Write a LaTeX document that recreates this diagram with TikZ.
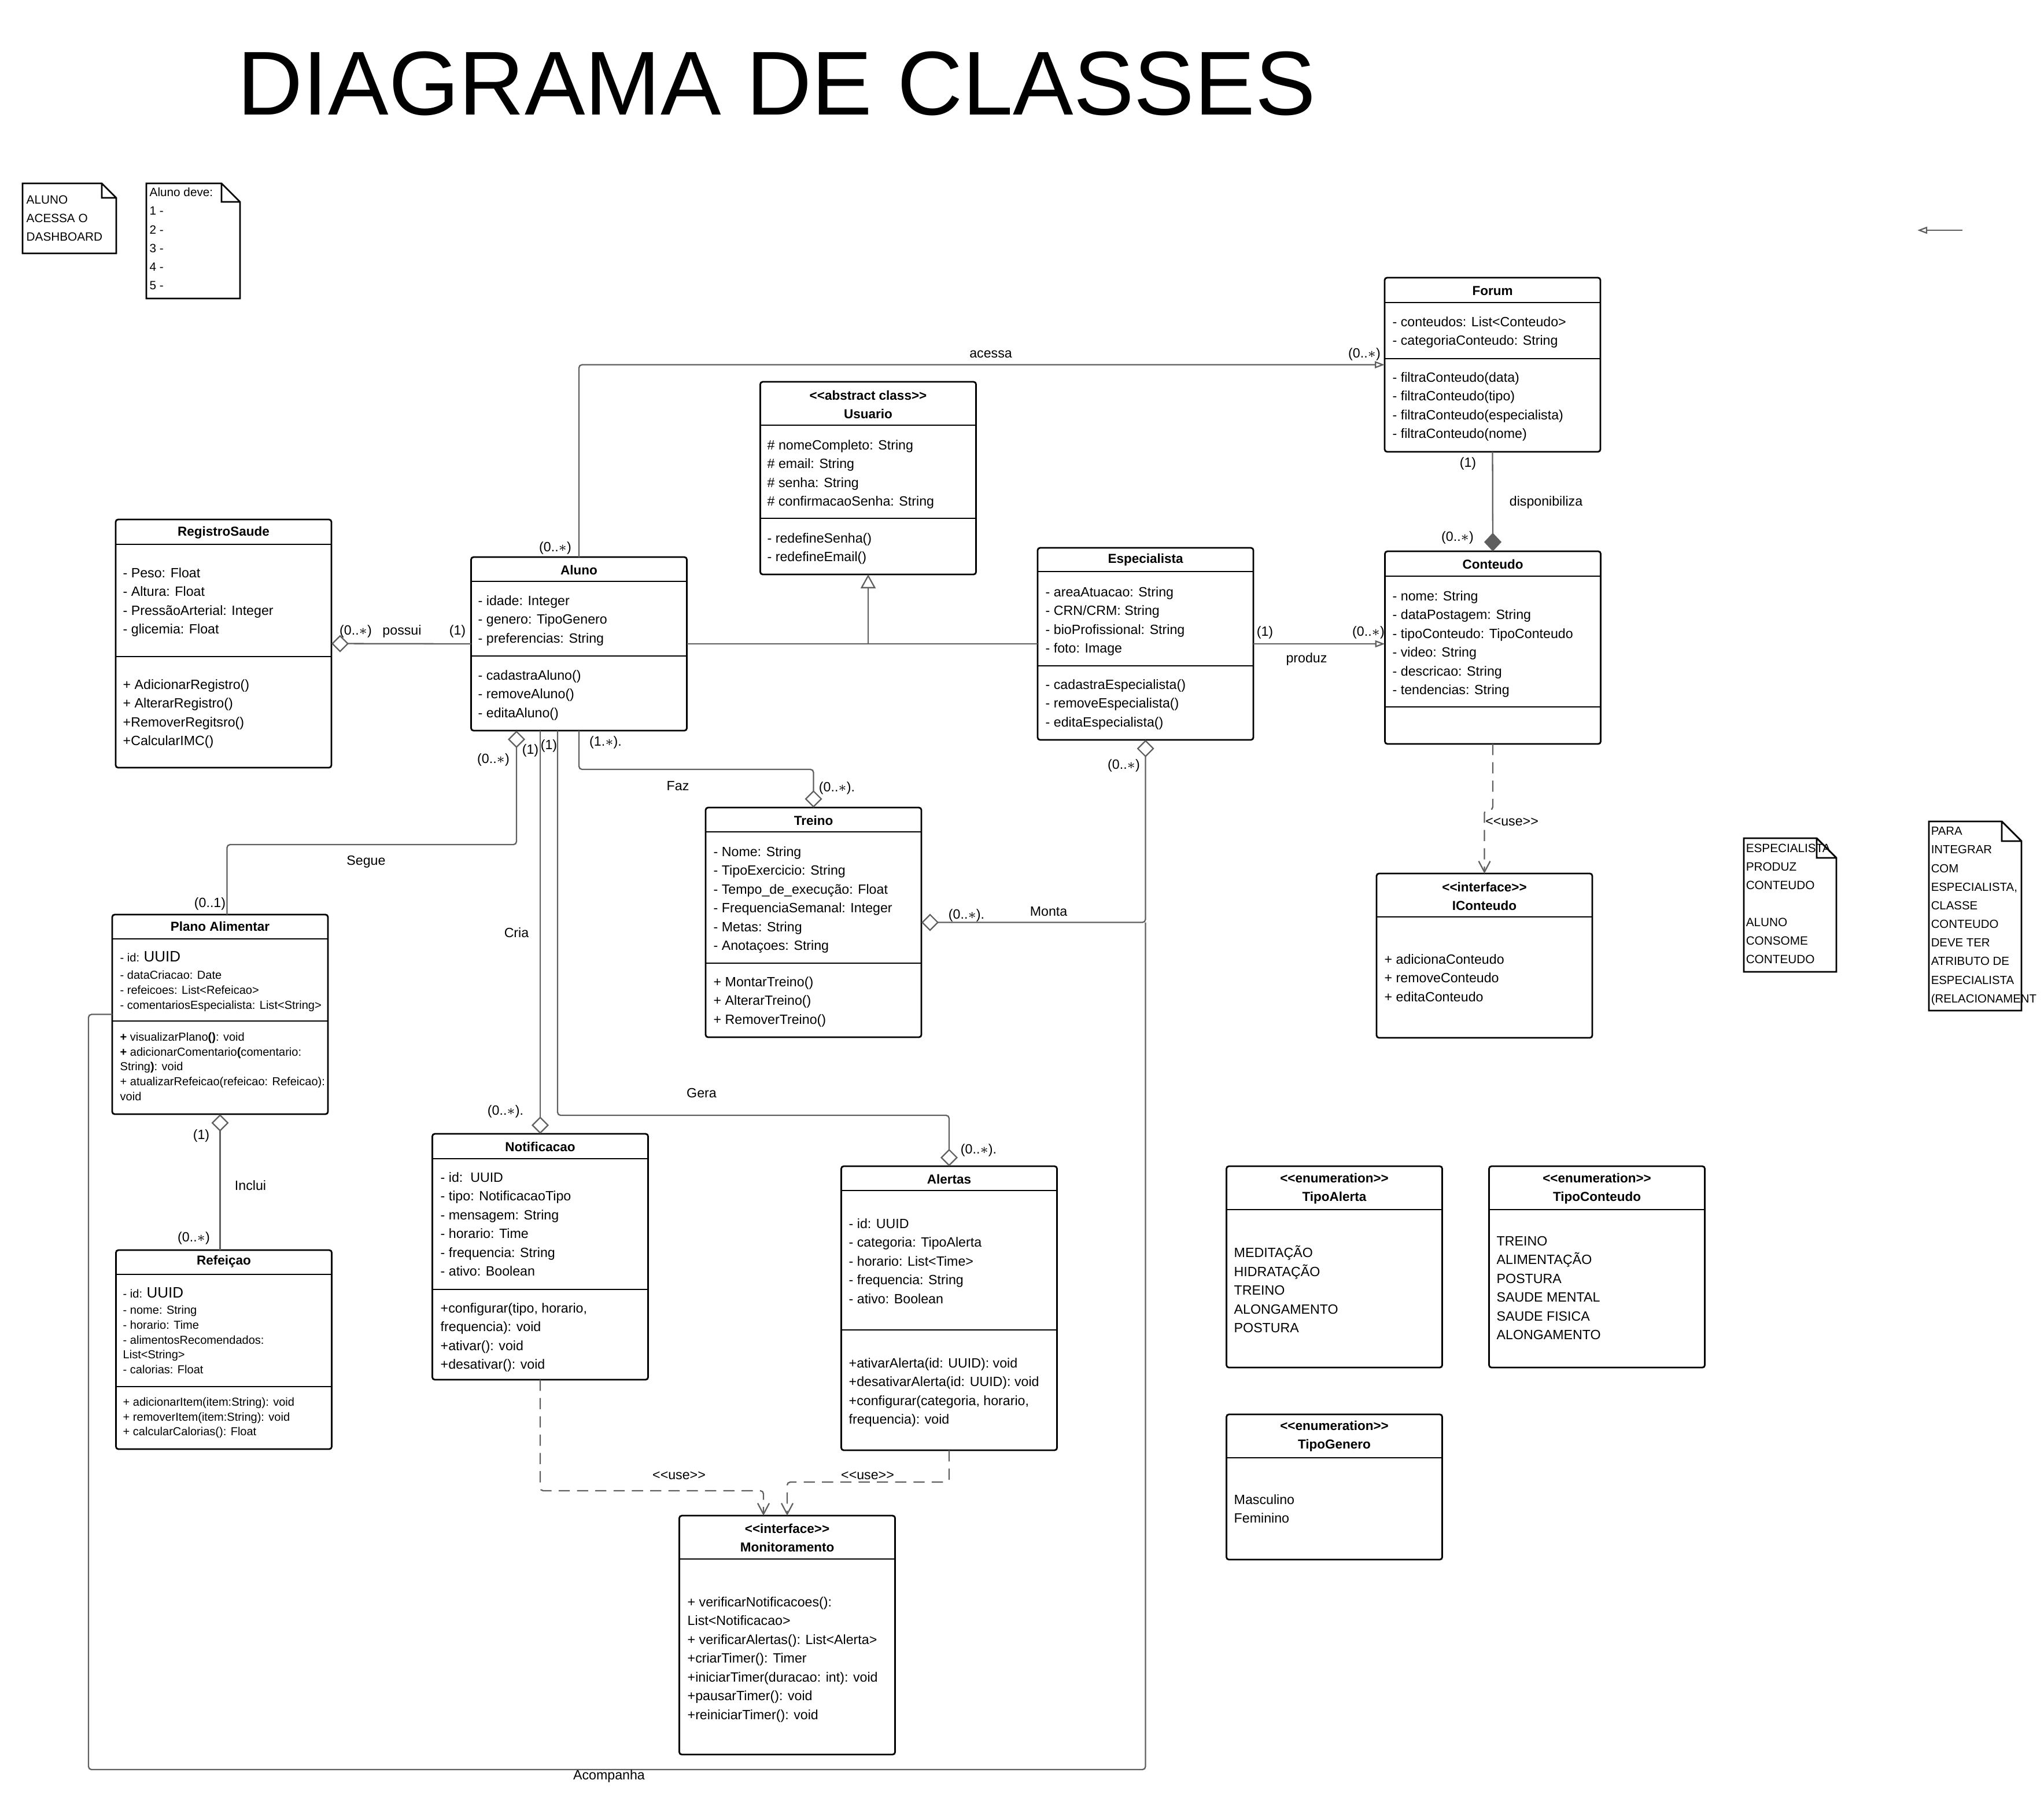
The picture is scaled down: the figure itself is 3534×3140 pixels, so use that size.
\documentclass[tikz,border=0pt]{standalone}
\usepackage{fontspec}
\setmainfont{Liberation Sans}
\usetikzlibrary{arrows.meta}
\definecolor{linegray}{HTML}{5F5F5F}
\newcommand{\stL}{<\kern0pt<}
\newcommand{\stR}{>\kern0pt>}

\begin{document}
\begin{tikzpicture}[x=0.1mm, y=-0.1mm,
    cls/.style={draw, line width=0.8pt, rounded corners=1.2pt, minimum width=37.3mm, inner sep=0pt, outer sep=0pt},
    divline/.style={line width=0.8pt},
    ttl/.style={font=\fontsize{6.4}{9.1}\selectfont\bfseries, align=center, inner sep=0pt},
    txt/.style={anchor=north west, inner sep=0pt, align=left, yshift=-0.45mm, font=\fontsize{6.6}{9.25}\selectfont, execute at begin node=\strut},
    txtsm/.style={anchor=north west, inner sep=0pt, align=left, yshift=-0.2mm, font=\fontsize{5.7}{7.35}\selectfont, execute at begin node=\strut},
    memo/.style={anchor=north west, inner sep=0pt, align=left, yshift=-0.4mm, font=\fontsize{5.9}{9.15}\selectfont, execute at begin node=\strut},
    lbl/.style={font=\fontsize{6.6}{8}\selectfont, inner sep=0pt},
    assoc/.style={draw=linegray, line width=0.65pt, rounded corners=1.5pt},
    dep/.style={assoc, dash pattern=on 5.5pt off 3.5pt},
    aggr/.tip={Diamond[open, length=3mm, width=3mm]},
    compo/.tip={Diamond[length=3.2mm, width=3mm]},
    navi/.tip={Triangle[open, length=1.7mm, width=1.2mm]},
    gener/.tip={Triangle[open, length=2.4mm, width=2.6mm]},
    usearr/.tip={Straight Barb[length=1.9mm, width=2mm]}]
\useasboundingbox (0,0) rectangle (3534,3140);

\node[anchor=base west, inner sep=0pt, font=\fontsize{44.6}{50}\selectfont] (title) at (410,198) {DIAGRAMA DE CLASSES};

% notes
\draw[line width=0.8pt] (39,317) -- (176,317) -- (201,342) -- (201,438) -- (39,438) -- cycle
      (176,317) -- (176,342) -- (201,342);
\node[memo] (noteDash) at (45,333) {ALUNO\\ACESSA O\\DASHBOARD};
\draw[line width=0.8pt] (253,317) -- (383,317) -- (415,349) -- (415,516) -- (253,516) -- cycle
      (383,317) -- (383,349) -- (415,349);
\node[memo] (noteDeve) at (258,320) {Aluno deve:\\1 -\\2 -\\3 -\\4 -\\5 -};
\draw[line width=0.8pt] (3015,1449) -- (3141,1449) -- (3175,1483) -- (3175,1680) -- (3015,1680) -- cycle
      (3141,1449) -- (3141,1483) -- (3175,1483);
\node[memo] (noteProduz) at (3018,1454) {ESPECIALISTA\\PRODUZ\\CONTEUDO};
\node[memo] (noteConsome) at (3018,1582) {ALUNO\\CONSOME\\CONTEUDO};
\draw[line width=0.8pt] (3335,1420) -- (3461,1420) -- (3495,1454) -- (3495,1747) -- (3335,1747) -- cycle
      (3461,1420) -- (3461,1454) -- (3495,1454);
\node[memo, font=\fontsize{5.8}{9.15}\selectfont] (noteIntegrar) at (3338,1425) {PARA\\INTEGRAR\\COM\\ESPECIALISTA,\\CLASSE\\CONTEUDO\\DEVE TER\\ATRIBUTO DE\\ESPECIALISTA\\(RELACIONAMENT};

% class boxes
\node[cls, minimum height=42.9mm] (regsaude) at (386.5,1112.5) {};
\node[cls, minimum height=30mm] (aluno) at (1001,1113) {};
\node[cls, minimum height=33.3mm] (usuario) at (1501,826.5) {};
\node[cls, minimum height=30.1mm] (forum) at (2580.5,630.5) {};
\node[cls, minimum height=33.2mm] (esp) at (1980.5,1113) {};
\node[cls, minimum height=33.3mm] (conteudo) at (2581,1119.5) {};
\node[cls, minimum height=39.7mm] (treino) at (1406.5,1594.5) {};
\node[cls, minimum height=42.5mm] (notif) at (934,2172.5) {};
\node[cls, minimum height=49.1mm] (alertas) at (1641,2261.5) {};
\node[cls, minimum height=41.3mm] (monit) at (1361,2826.5) {};
\node[cls, minimum height=28.4mm] (iconteudo) at (2566.5,1652) {};
\node[cls, minimum height=34.8mm] (tipoAlerta) at (2307,2190) {};
\node[cls, minimum height=34.8mm] (tipoConteudo) at (2761,2190) {};
\node[cls, minimum height=25.1mm] (tipoGenero) at (2307,2570.5) {};
\node[cls, minimum height=34.5mm] (plano) at (380.5,1753.5) {};
\node[cls, minimum height=34.4mm] (refeicao) at (387,2333) {};

% compartments
\draw[divline] (regsaude.west |- 0,941) -- (regsaude.east |- 0,941)
      (regsaude.west |- 0,1135) -- (regsaude.east |- 0,1135)
      (aluno.west |- 0,1005) -- (aluno.east |- 0,1005)
      (aluno.west |- 0,1134) -- (aluno.east |- 0,1134)
      (usuario.west |- 0,735) -- (usuario.east |- 0,735)
      (usuario.west |- 0,896) -- (usuario.east |- 0,896)
      (forum.west |- 0,523) -- (forum.east |- 0,523)
      (forum.west |- 0,620) -- (forum.east |- 0,620)
      (esp.west |- 0,988) -- (esp.east |- 0,988)
      (esp.west |- 0,1151) -- (esp.east |- 0,1151)
      (conteudo.west |- 0,996) -- (conteudo.east |- 0,996)
      (conteudo.west |- 0,1222) -- (conteudo.east |- 0,1222)
      (treino.west |- 0,1438) -- (treino.east |- 0,1438)
      (treino.west |- 0,1665) -- (treino.east |- 0,1665)
      (notif.west |- 0,2003) -- (notif.east |- 0,2003)
      (notif.west |- 0,2229) -- (notif.east |- 0,2229)
      (alertas.west |- 0,2058) -- (alertas.east |- 0,2058)
      (alertas.west |- 0,2299) -- (alertas.east |- 0,2299)
      (monit.west |- 0,2695) -- (monit.east |- 0,2695)
      (iconteudo.west |- 0,1585) -- (iconteudo.east |- 0,1585)
      (tipoAlerta.west |- 0,2091) -- (tipoAlerta.east |- 0,2091)
      (tipoConteudo.west |- 0,2091) -- (tipoConteudo.east |- 0,2091)
      (tipoGenero.west |- 0,2520) -- (tipoGenero.east |- 0,2520)
      (plano.west |- 0,1623) -- (plano.east |- 0,1623)
      (plano.west |- 0,1765) -- (plano.east |- 0,1765)
      (refeicao.west |- 0,2203) -- (refeicao.east |- 0,2203)
      (refeicao.west |- 0,2397) -- (refeicao.east |- 0,2397);

% titles
\node[ttl] (regsaudeT) at (regsaude.north |- 0,921) {RegistroSaude};
\node[ttl] (alunoT) at (aluno.north |- 0,985) {Aluno};
\node[ttl] (usuarioT) at (usuario.north |- 0,699) {\stL abstract class\stR\\Usuario};
\node[ttl] (forumT) at (forum.north |- 0,503) {Forum};
\node[ttl] (espT) at (esp.north |- 0,968) {Especialista};
\node[ttl] (conteudoT) at (conteudo.north |- 0,975) {Conteudo};
\node[ttl] (treinoT) at (treino.north |- 0,1418) {Treino};
\node[ttl] (notifT) at (notif.north |- 0,1982) {Notificacao};
\node[ttl] (alertasT) at (alertas.north |- 0,2038) {Alertas};
\node[ttl] (monitT) at (monit.north |- 0,2658) {\stL interface\stR\\Monitoramento};
\node[ttl] (iconteudoT) at (iconteudo.north |- 0,1549) {\stL interface\stR\\IConteudo};
\node[ttl] (tipoAlertaT) at (tipoAlerta.north |- 0,2055) {\stL enumeration\stR\\TipoAlerta};
\node[ttl] (tipoConteudoT) at (tipoConteudo.north |- 0,2055) {\stL enumeration\stR\\TipoConteudo};
\node[ttl] (tipoGeneroT) at (tipoGenero.north |- 0,2483) {\stL enumeration\stR\\TipoGenero};
\node[ttl] (planoT) at (plano.north |- 0,1601) {Plano Alimentar};
\node[ttl] (refeicaoT) at (refeicao.north |- 0,2181) {Refeiçao};

% members
\node[txt] (regsaudeA) at (212,976) {- Peso: Float\\- Altura: Float\\- PressãoArterial: Integer\\- glicemia: Float};
\node[txt] (regsaudeM) at (212,1169) {+ AdicionarRegistro()\\+ AlterarRegistro()\\+RemoverRegitsro()\\+CalcularIMC()};
\node[txt] (alunoA) at (826,1024) {- idade: Integer\\- genero: TipoGenero\\- preferencias: String};
\node[txt] (alunoM) at (826,1153) {- cadastraAluno()\\- removeAluno()\\- editaAluno()};
\node[txt] (usuarioA) at (1326,755) {\# nomeCompleto: String\\\# email: String\\\# senha: String\\\# confirmacaoSenha: String};
\node[txt] (usuarioM) at (1326,916) {- redefineSenha()\\- redefineEmail()};
\node[txt] (forumA) at (2407,542) {- conteudos: List<Conteudo>\\- categoriaConteudo: String};
\node[txt] (forumM) at (2407,638) {- filtraConteudo(data)\\- filtraConteudo(tipo)\\- filtraConteudo(especialista)\\- filtraConteudo(nome)};
\node[txt] (espA) at (1807,1009) {- areaAtuacao: String\\- CRN/CRM: String\\- bioProfissional: String\\- foto: Image};
\node[txt] (espM) at (1807,1169) {- cadastraEspecialista()\\- removeEspecialista()\\- editaEspecialista()};
\node[txt] (conteudoA) at (2407,1016) {- nome: String\\- dataPostagem: String\\- tipoConteudo: TipoConteudo\\- video: String\\- descricao: String\\- tendencias: String};
\node[txt] (treinoA) at (1233,1458) {- Nome: String\\- TipoExercicio: String\\- Tempo\_de\_execução: Float\\- FrequenciaSemanal: Integer\\- Metas: String\\- Anotaçoes: String};
\node[txt] (treinoM) at (1233,1683) {+ MontarTreino()\\+ AlterarTreino()\\+ RemoverTreino()};
\node[txt] (notifA) at (761,2021) {- id:\ \ UUID\\- tipo: NotificacaoTipo\\- mensagem: String\\- horario: Time\\- frequencia: String\\- ativo: Boolean};
\node[txt] (notifM) at (761,2247) {+configurar(tipo, horario,\\frequencia): void\\+ativar(): void\\+desativar(): void};
\node[txt] (alertasA) at (1467,2101) {- id: UUID\\- categoria: TipoAlerta\\- horario: List<Time>\\- frequencia: String\\- ativo: Boolean};
\node[txt] (alertasM) at (1467,2342) {+ativarAlerta(id: UUID): void\\+desativarAlerta(id: UUID): void\\+configurar(categoria, horario,\\frequencia): void};
\node[txt] (monitM) at (1188,2755) {+ verificarNotificacoes():\\List<Notificacao>\\+ verificarAlertas(): List<Alerta>\\+criarTimer(): Timer\\+iniciarTimer(duracao: int): void\\+pausarTimer(): void\\+reiniciarTimer(): void};
\node[txt] (iconteudoM) at (2393,1644) {+ adicionaConteudo\\+ removeConteudo\\+ editaConteudo};
\node[txt] (tipoAlertaV) at (2133,2148) {MEDITAÇÃO\\HIDRATAÇÃO\\TREINO\\ALONGAMENTO\\POSTURA};
\node[txt] (tipoConteudoV) at (2587,2132) {TREINO\\ALIMENTAÇÃO\\POSTURA\\SAUDE MENTAL\\SAUDE FISICA\\ALONGAMENTO};
\node[txt] (tipoGeneroV) at (2133,2578) {Masculino\\Feminino};
\node[txtsm] (planoA) at (207,1642) {- id: {\fontsize{7.4}{7.35}\selectfont UUID}\\[0.4mm]- dataCriacao: Date\\- refeicoes: List<Refeicao>\\- comentariosEspecialista: List<String>};
\node[txtsm] (planoM) at (207,1782) {\textbf{+} visualizarPlano\textbf{()}: void\\\textbf{+} adicionarComentario\textbf{(}comentario:\\String\textbf{)}: void\\+ atualizarRefeicao(refeicao: Refeicao):\\void};
\node[txtsm] (refeicaoA) at (212,2223) {- id: {\fontsize{7.4}{7.35}\selectfont UUID}\\[0.2mm]- nome: String\\- horario: Time\\- alimentosRecomendados:\\List<String>\\- calorias: Float};
\node[txtsm] (refeicaoM) at (212,2413) {+ adicionarItem(item:String): void\\+ removerItem(item:String): void\\+ calcularCalorias(): Float};

% associations
\draw[assoc, -{navi}] (aluno.north) |- (forum.west);
\draw[assoc, {aggr}-] (regsaude.east) -- (aluno.west);
\draw[assoc] (aluno.east) -- (esp.west);
\draw[assoc, -{gener}] (usuario.south |- aluno.east) -- (usuario.south);
\draw[assoc, -{navi}] (esp.east) -- (conteudo.west |- esp.east);
\draw[assoc, -{compo}] (forum.south) -- (conteudo.north);
\draw[assoc, -{aggr}] (aluno.south) |- (treino.north |- 0,1330) -- (treino.north);
\draw[assoc, {aggr}-] ([xshift=-10.8mm]aluno.south) |- ([xshift=1.2mm]plano.north |- 0,1460) -- ([xshift=1.2mm]plano.north);
\draw[assoc, -{aggr}] (notif.north |- aluno.south) -- (notif.north);
\draw[assoc, -{aggr}] ([xshift=-3.7mm]aluno.south) |- (alertas.north |- 0,1928) -- (alertas.north);
\draw[assoc, {aggr}-{aggr}] (esp.south) |- (treino.east);
\coordinate (acLeft) at (153,3059);
\draw[assoc] (esp.south |- treino.east) |- (acLeft) |- (plano.west);
\draw[assoc, {aggr}-] (plano.south) -- (plano.south |- refeicao.north);

% dependencies
\draw[dep, -{usearr}] (conteudo.south) |- (iconteudo.north |- 0,1400) -- (iconteudo.north);
\draw[dep, -{usearr}] (notif.south) |- ([xshift=-4.1mm]monit.north |- 0,2577) -- ([xshift=-4.1mm]monit.north);
\draw[dep, -{usearr}] (alertas.south) |- (monit.north |- 0,2562) -- (monit.north);

\coordinate (strayA) at (3393,398);
\coordinate (strayB) at (3315,398);
\draw[assoc, -{navi}] (strayA) -- (strayB);

% labels
\node[lbl] (mAcessa) at (1713,612) {acessa};
\node[lbl] (mForumN) at (2359,612) {(0..$\ast$)};
\node[lbl] (mAlunoN) at (960,947) {(0..$\ast$)};
\node[lbl] (mPossuiN) at (615,1091) {(0..$\ast$)};
\node[lbl] (mPossui) at (695,1091) {possui};
\node[lbl] (mPossui1) at (791,1091) {(1)};
\node[lbl] (mProduz1) at (2187,1093) {(1)};
\node[lbl] (mProduzN) at (2366,1093) {(0..$\ast$)};
\node[lbl] (mProduz) at (2259,1139) {produz};
\node[lbl] (mDisp1) at (2538,801) {(1)};
\node[lbl] (mDisp) at (2673,868) {disponibiliza};
\node[lbl] (mDispN) at (2520,929) {(0..$\ast$)};
\node[lbl] (mUseC) at (2614,1421) {\stL use\stR};
\node[lbl] (mSegueN) at (853,1313) {(0..$\ast$)};
\node[lbl] (mCria1) at (917,1297) {(1)};
\node[lbl] (mGera1) at (949,1289) {(1)};
\node[lbl] (mFaz1) at (1047,1283) {(1.$\ast$).};
\node[lbl] (mFaz) at (1172,1359) {Faz};
\node[lbl] (mFazN) at (1447,1362) {(0..$\ast$).};
\node[lbl] (mSegue) at (633,1490) {Segue};
\node[lbl] (mSegue1) at (363,1562) {(0..1)};
\node[lbl] (mCria) at (893,1612) {Cria};
\node[lbl] (mEspN) at (1943,1323) {(0..$\ast$)};
\node[lbl] (mMonta) at (1813,1576) {Monta};
\node[lbl] (mMontaN) at (1671,1582) {(0..$\ast$).};
\node[lbl] (mGera) at (1213,1889) {Gera};
\node[lbl] (mCriaN) at (874,1921) {(0..$\ast$).};
\node[lbl] (mGeraN) at (1692,1988) {(0..$\ast$).};
\node[lbl] (mInclui1) at (348,1963) {(1)};
\node[lbl] (mInclui) at (433,2049) {Inclui};
\node[lbl] (mIncluiN) at (335,2140) {(0..$\ast$)};
\node[lbl] (mUseN) at (1174,2551) {\stL use\stR};
\node[lbl] (mUseA) at (1500,2551) {\stL use\stR};
\node[lbl] (mAcomp) at (1053,3070) {Acompanha};
\end{tikzpicture}
\end{document}
